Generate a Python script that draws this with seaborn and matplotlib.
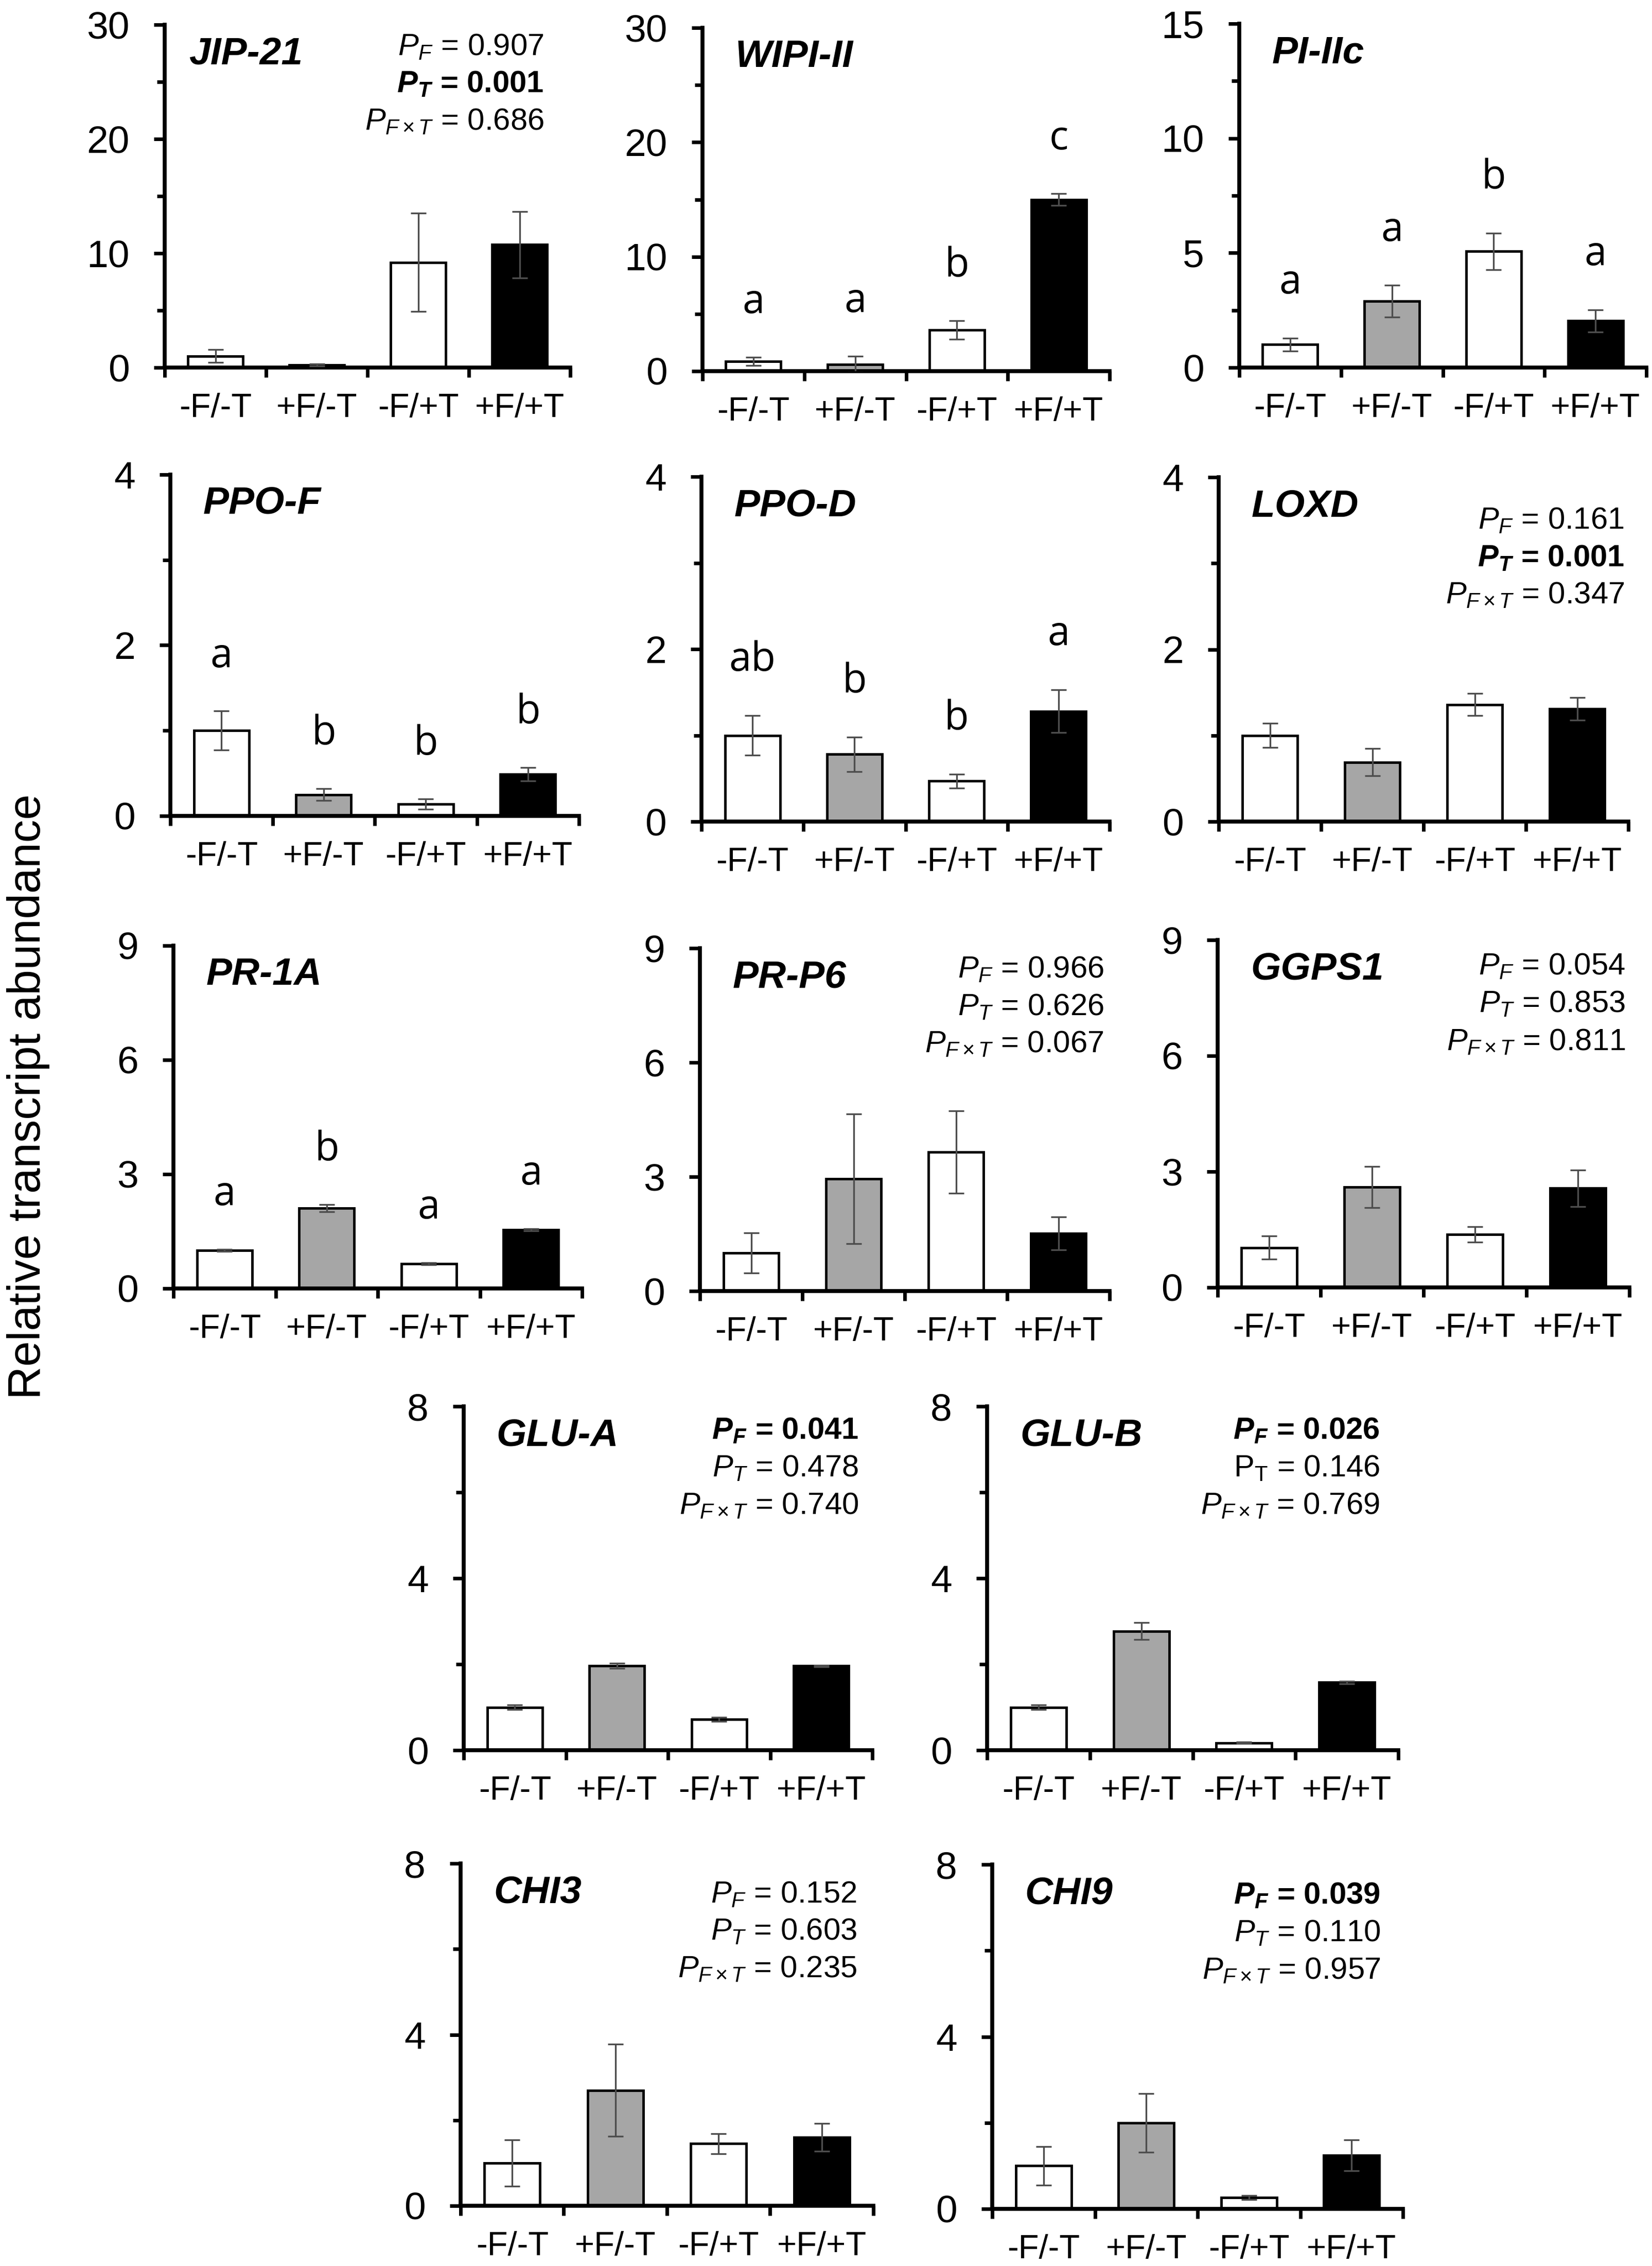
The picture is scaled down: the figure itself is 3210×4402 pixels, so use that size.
import matplotlib
matplotlib.use('Agg')
import matplotlib.pyplot as plt
import seaborn as sns
import numpy as np
import pandas as pd

# treatment groups and bar fills
groups = ['-F/-T', '+F/-T', '-F/+T', '+F/+T']
bar_colors = ['white', '#a6a6a6', 'white', 'black']

# relative transcript abundance (mean, SE)
jip21 = [1.0, 0.23, 9.2, 10.75]
jip21_se = [0.57, 0.1, 4.3, 2.9]
wipi2 = [0.85, 0.6, 3.6, 15.0]
wipi2_se = [0.35, 0.7, 0.8, 0.5]
pi2c = [1.0, 2.89, 5.07, 2.04]
pi2c_se = [0.29, 0.7, 0.8, 0.48]
ppof = [1.0, 0.25, 0.14, 0.49]
ppof_se = [0.23, 0.07, 0.06, 0.08]
ppod = [1.0, 0.78, 0.47, 1.28]
ppod_se = [0.23, 0.2, 0.08, 0.25]
loxd = [1.0, 0.69, 1.36, 1.31]
loxd_se = [0.14, 0.16, 0.13, 0.13]
pr1a = [1.0, 2.11, 0.65, 1.54]
pr1a_se = [0.03, 0.09, 0.03, 0.03]
prp6 = [1.0, 2.95, 3.65, 1.51]
prp6_se = [0.53, 1.7, 1.08, 0.43]
ggps1 = [1.03, 2.6, 1.38, 2.57]
ggps1_se = [0.3, 0.53, 0.2, 0.47]
glua = [1.0, 1.96, 0.72, 1.96]
glua_se = [0.05, 0.06, 0.05, 0.02]
glub = [1.0, 2.77, 0.17, 1.58]
glub_se = [0.05, 0.2, 0.02, 0.03]
chi3 = [1.0, 2.7, 1.45, 1.6]
chi3_se = [0.54, 1.08, 0.24, 0.32]
chi9 = [1.0, 2.0, 0.26, 1.24]
chi9_se = [0.45, 0.68, 0.05, 0.36]

# significance letters
wipi2_letters = ['a', 'a', 'b', 'c']
pi2c_letters = ['a', 'a', 'b', 'a']
ppof_letters = ['a', 'b', 'b', 'b']
ppod_letters = ['ab', 'b', 'b', 'a']
pr1a_letters = ['a', 'b', 'a', 'a']

# two-way ANOVA p values (F, T, FxT) and which are significant
jip21_p = ['0.907', '0.001', '0.686']
jip21_sig = [False, True, False]
loxd_p = ['0.161', '0.001', '0.347']
loxd_sig = [False, True, False]
prp6_p = ['0.966', '0.626', '0.067']
prp6_sig = [False, False, False]
ggps1_p = ['0.054', '0.853', '0.811']
ggps1_sig = [False, False, False]
glua_p = ['0.041', '0.478', '0.740']
glua_sig = [True, False, False]
glub_p = ['0.026', '0.146', '0.769']
glub_sig = [True, False, False]
chi3_p = ['0.152', '0.603', '0.235']
chi3_sig = [False, False, False]
chi9_p = ['0.039', '0.110', '0.957']
chi9_sig = [True, False, False]

sns.set_style('ticks')
plt.rcParams['font.family'] = ['Liberation Sans', 'DejaVu Sans']
plt.rcParams['mathtext.fontset'] = 'custom'
plt.rcParams['mathtext.rm'] = 'Liberation Sans'
plt.rcParams['mathtext.it'] = 'Liberation Sans:italic'
plt.rcParams['mathtext.bf'] = 'Liberation Sans:bold'
plt.rcParams['mathtext.bfit'] = 'Liberation Sans:bold:italic'
for k in ['axes.edgecolor', 'xtick.color', 'ytick.color', 'text.color', 'axes.labelcolor']:
    plt.rcParams[k] = 'black'

W, H = 3210, 4402
fig = plt.figure(figsize=(W / 100, H / 100), dpi=100)


def make_ax(x0, x1, ytop, yzero):
    return fig.add_axes([x0 / W, 1 - yzero / H, (x1 - x0) / W, (yzero - ytop) / H])


def p_labels(sig, upright_t=False):
    plain = [r'$P_{F}$', r'$P_{T}$', r'$P_{F\times T}$']
    bold = [r'$\mathbfit{P}_{\mathbfit{F}}$', r'$\mathbfit{P}_{\mathbfit{T}}$', r'$P_{F\times T}$']
    out = [bold[i] if sig[i] else plain[i] for i in range(3)]
    if upright_t:
        out[1] = r'$\mathrm{P}_{\mathrm{T}}$'
    return out


def draw(ax, name, mean, se, ymax, major, minor=None, letters=None, pv=None, sig=None,
         upright_t=False, px=0.965, py=0.905, nx=0.08):
    df = pd.DataFrame({'group': groups, 'value': mean})
    sns.barplot(data=df, x='group', y='value', hue='group', order=groups, hue_order=groups,
                palette=dict(zip(groups, bar_colors)), saturation=1, width=0.54,
                edgecolor='black', linewidth=3.5, legend=False, ax=ax)
    ax.errorbar(np.arange(4), mean, yerr=se, fmt='none', ecolor='#4d4d4d',
                elinewidth=2.4, capsize=11, capthick=2.4, zorder=3)

    ax.set_xlim(-0.5, 3.5)
    ax.set_ylim(0, ymax)
    ax.set_xlabel('')
    ax.set_ylabel('')
    ax.set_xticks([-0.5, 0.5, 1.5, 2.5, 3.5])
    ax.set_xticklabels([])
    ax.set_xticks(range(4), minor=True)
    ax.set_xticklabels(groups, minor=True)
    ax.tick_params(axis='x', which='major', direction='out', length=14, width=5)
    ax.tick_params(axis='x', which='minor', length=0, pad=35, labelsize=47)
    yt = np.arange(0, ymax + 1e-9, major)
    ax.set_yticks(yt)
    ax.set_yticklabels([f'{v:g}' for v in yt])
    if minor is not None:
        ax.set_yticks(np.arange(minor, ymax, major), minor=True)
    else:
        ax.set_yticks([], minor=True)
    ax.tick_params(axis='y', which='major', direction='out', length=15, width=5, pad=34, labelsize=54)
    ax.tick_params(axis='y', which='minor', direction='out', length=11, width=5)
    sns.despine(ax=ax)
    for s in ['left', 'bottom']:
        ax.spines[s].set_linewidth(5.5)

    ax.text(nx, 0.915, name, transform=ax.transAxes, fontsize=54, fontweight='bold',
            fontstyle='italic', ha='left', va='center')

    if letters is not None:
        for i, l in enumerate(letters):
            ax.text(i, mean[i] + se[i] + 0.16 * ymax, l, ha='center', va='center',
                    fontsize=56, family=['Open Sans', 'DejaVu Sans'])

    if pv is not None:
        labs = p_labels(sig, upright_t)
        for k in range(3):
            ax.text(px, py - k * 0.109, labs[k] + ' = ' + pv[k], transform=ax.transAxes,
                    ha='right', va='baseline', fontsize=43,
                    fontweight='bold' if sig[k] else 'normal')


# row 1
draw(make_ax(320, 1108, 48, 714), 'JIP-21', jip21, jip21_se, 30, 10, 5,
     pv=jip21_p, sig=jip21_sig, px=0.935, py=0.911, nx=0.06)
draw(make_ax(1365, 2156, 54, 721), 'WIPI-II', wipi2, wipi2_se, 30, 10, 5, letters=wipi2_letters)
draw(make_ax(2408, 3199, 46, 714), 'PI-IIc', pi2c, pi2c_se, 15, 5, 2.5, letters=pi2c_letters)
# row 2
draw(make_ax(331, 1125, 922, 1585), 'PPO-F', ppof, ppof_se, 4, 2, 1, letters=ppof_letters)
draw(make_ax(1363, 2156, 926, 1596), 'PPO-D', ppod, ppod_se, 4, 2, 1, letters=ppod_letters)
draw(make_ax(2368, 3164, 927, 1596), 'LOXD', loxd, loxd_se, 4, 2, 1,
     pv=loxd_p, sig=loxd_sig, px=0.99, py=0.85)
# row 3
draw(make_ax(337, 1131, 1837, 2503), 'PR-1A', pr1a, pr1a_se, 9, 3, letters=pr1a_letters)
draw(make_ax(1360, 2156, 1842, 2508), 'PR-P6', prp6, prp6_se, 9, 3,
     pv=prp6_p, sig=prp6_sig, px=0.986, py=0.913)
draw(make_ax(2366, 3166, 1826, 2501), 'GGPS1', ggps1, ggps1_se, 9, 3,
     pv=ggps1_p, sig=ggps1_sig, px=0.99, py=0.90)
# row 4
draw(make_ax(901, 1695, 2732, 3400), 'GLU-A', glua, glua_se, 8, 4, 2,
     pv=glua_p, sig=glua_sig, px=0.966, py=0.904)
draw(make_ax(1918, 2717, 2732, 3400), 'GLU-B', glub, glub_se, 8, 4, 2,
     pv=glub_p, sig=glub_sig, upright_t=True, px=0.955, py=0.904)
# row 5
draw(make_ax(895, 1697, 3620, 4285), 'CHI3', chi3, chi3_se, 8, 4, 2,
     pv=chi3_p, sig=chi3_sig, px=0.96, py=0.885)
draw(make_ax(1928, 2726, 3622, 4291), 'CHI9', chi9, chi9_se, 8, 4, 2,
     pv=chi9_p, sig=chi9_sig, px=0.945, py=0.885)

fig.text(55 / W, 1 - 2130 / H, 'Relative transcript abundance', rotation=90,
         ha='center', va='center', fontsize=64)

fig.savefig('out.png', dpi=100)
